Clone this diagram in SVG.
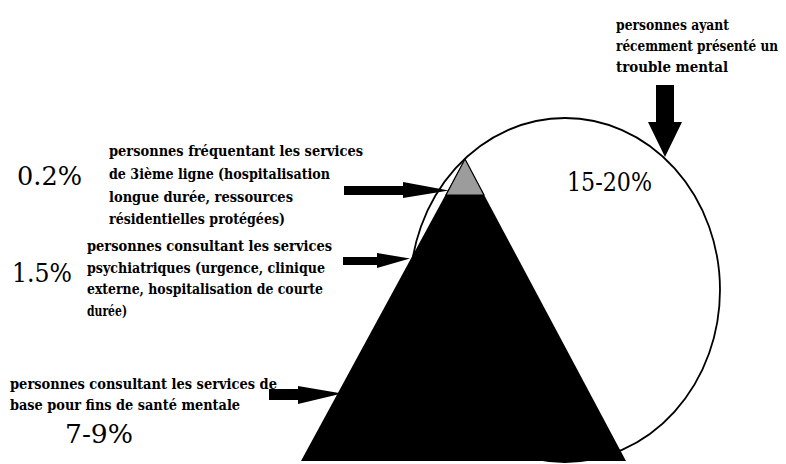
<svg xmlns="http://www.w3.org/2000/svg" width="786" height="464" viewBox="0 0 786 464">
<style>
.lbl{font-family:'DejaVu Serif','Liberation Serif',serif;font-weight:bold;font-size:15.5px;fill:#000}
.pct{font-family:'DejaVu Serif','Liberation Serif',serif;font-weight:normal;font-size:26px;fill:#000}
.arr{fill:#000;stroke:none}
</style>
<rect width="786" height="464" fill="#fff"/>
<g id="circle">
<ellipse cx="565" cy="290" rx="155" ry="172" fill="#fff" stroke="#000" stroke-width="1.8"/>
<text class="pct" x="567" y="191" textLength="85" lengthAdjust="spacingAndGlyphs">15-20%</text>
</g>
<g id="pyramid">
<polygon points="465,159 626,461 301,461" fill="#000"/>
<polygon points="465,159 484,195 446,195" fill="#9c9c9c" stroke="#000" stroke-width="1.2"/>
</g>
<g id="label-trouble">
<text class="lbl" x="616" y="30" textLength="113" lengthAdjust="spacingAndGlyphs">personnes ayant</text>
<text class="lbl" x="616" y="51" textLength="162" lengthAdjust="spacingAndGlyphs">récemment présenté un</text>
<text class="lbl" x="616" y="72" textLength="112" lengthAdjust="spacingAndGlyphs">trouble mental</text>
</g>
<g id="label-3e-ligne">
<text class="pct" x="17" y="185" textLength="65" lengthAdjust="spacingAndGlyphs">0.2%</text>
<text class="lbl" x="109" y="156" textLength="254" lengthAdjust="spacingAndGlyphs">personnes fréquentant les services</text>
<text class="lbl" x="109" y="179" textLength="221" lengthAdjust="spacingAndGlyphs">de 3ième ligne (hospitalisation</text>
<text class="lbl" x="109" y="201.5" textLength="184" lengthAdjust="spacingAndGlyphs">longue durée, ressources</text>
<text class="lbl" x="109" y="224" textLength="176" lengthAdjust="spacingAndGlyphs">résidentielles protégées)</text>
</g>
<g id="label-psy">
<text class="pct" x="12" y="282" textLength="60" lengthAdjust="spacingAndGlyphs">1.5%</text>
<text class="lbl" x="87" y="251" textLength="245" lengthAdjust="spacingAndGlyphs">personnes consultant les services</text>
<text class="lbl" x="87" y="272.5" textLength="238" lengthAdjust="spacingAndGlyphs">psychiatriques (urgence, clinique</text>
<text class="lbl" x="87" y="294" textLength="236" lengthAdjust="spacingAndGlyphs">externe, hospitalisation de courte</text>
<text class="lbl" x="87" y="315.5" textLength="40" lengthAdjust="spacingAndGlyphs">durée)</text>
</g>
<g id="label-base">
<text class="lbl" x="10" y="389" textLength="267" lengthAdjust="spacingAndGlyphs">personnes consultant les services de</text>
<text class="lbl" x="10" y="410" textLength="230" lengthAdjust="spacingAndGlyphs">base pour fins de santé mentale</text>
<text class="pct" x="65" y="443" textLength="68" lengthAdjust="spacingAndGlyphs">7-9%</text>
</g>
<g id="connectors">
<polygon class="arr" points="656,85 674,85 674,122 682,122 665,157 648,122 656,122"/>
<polygon class="arr" points="344,186 403,186 403,182 449,190.5 403,198 403,195 344,195"/>
<polygon class="arr" points="343,257 377,257 377,253 410,258.5 377,268 377,265 343,265"/>
<polygon class="arr" points="269,389 298,389 298,386 342,393.5 298,404 298,400 269,400"/>
</g>
</svg>
